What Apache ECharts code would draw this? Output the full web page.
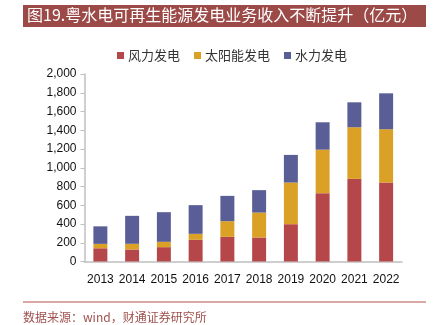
<!DOCTYPE html>
<html>
<head>
<meta charset="utf-8">
<script src="https://cdn.jsdelivr.net/npm/echarts@6/dist/echarts.min.js"></script>
<style>
html,body{margin:0;padding:0;background:#fff;}
#c{width:439px;height:325px;}
</style>
</head>
<body>
<div id="c"></div>
<script>
var categories = ['2013','2014','2015','2016','2017','2018','2019','2020','2021','2022'];
var windPower = [141,128,153,231,263,256,398,729,881,842];
var solarPower = [47,61,57,64,167,266,444,464,551,569];
var hydroPower = [187,298,316,306,270,239,295,292,266,383];
var seriesNames = ['风力发电','太阳能发电','水力发电'];
var yTicks = {min:0, max:2000, interval:200};
var titleText = '图19.粤水电可再生能源发电业务收入不断提升（亿元）';
var sourceText = '数据来源：wind，财通证券研究所';

var chart = echarts.init(document.getElementById('c'), null, {renderer:'canvas'});
var font = 'Liberation Sans, Arial, sans-serif';
var cjk = 'Noto Sans CJK SC, sans-serif';
chart.setOption({
  animation:false,
  color:['#b5474a','#dba026','#5a5e96'],
  grid:{left:84.5, right:37, top:74, bottom:63.5, containLabel:false},
  legend:{
    data:seriesNames, top:44, left:112, itemWidth:7, itemHeight:7, itemGap:14,
    icon:'rect',
    textStyle:{fontFamily:cjk, fontSize:13, color:'#333', padding:[0,0,0,-1]}
  },
  xAxis:{
    type:'category', data:categories,
    axisLine:{lineStyle:{color:'#bfbfbf', width:1.5}},
    axisTick:{show:false},
    axisLabel:{color:'#111', fontFamily:font, fontSize:12, margin:12, interval:0}
  },
  yAxis:{
    type:'value', min:yTicks.min, max:yTicks.max, interval:yTicks.interval,
    axisLine:{show:true, lineStyle:{color:'#bfbfbf', width:1.5}},
    axisTick:{show:true, length:4, lineStyle:{color:'#bfbfbf'}},
    splitLine:{show:false},
    axisLabel:{color:'#111', fontFamily:font, fontSize:12, margin:8,
      formatter:function(v){return v.toLocaleString('en-US');}}
  },
  series:[
    {name:seriesNames[0], type:'bar', stack:'a', data:windPower, barWidth:'44%'},
    {name:seriesNames[1], type:'bar', stack:'a', data:solarPower, barWidth:'44%'},
    {name:seriesNames[2], type:'bar', stack:'a', data:hydroPower, barWidth:'44%'}
  ],
  graphic:[
    {type:'rect', shape:{x:23, y:5, width:403, height:22}, style:{fill:'#9b4a47'}},
    {type:'text', left:27, top:7, style:{text:titleText, fill:'#fff', font:'16px '+cjk}},
    {type:'line', shape:{x1:23, y1:302, x2:426, y2:302}, style:{stroke:'#b5544f', lineWidth:1.2}},
    {type:'text', left:23, top:311, style:{text:sourceText, fill:'#a0524f', font:'12px '+cjk}}
  ]
});
</script>
</body>
</html>
